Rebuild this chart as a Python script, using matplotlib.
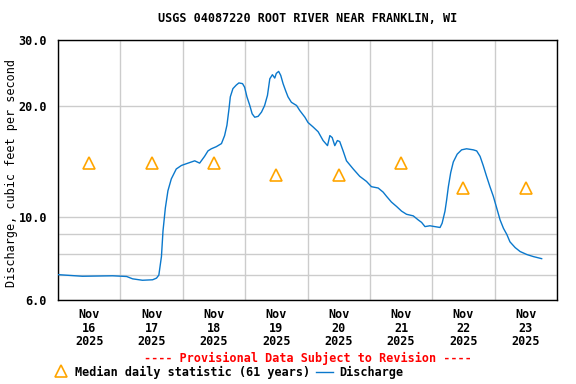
import numpy as np
import pandas as pd
import matplotlib
matplotlib.use("Agg")
import matplotlib.pyplot as plt
import matplotlib.dates as mdates
from matplotlib.lines import Line2D
from matplotlib.ticker import FixedLocator, NullFormatter, FixedFormatter

START = pd.Timestamp("2025-11-16 00:00")

hours = [
    0.0, 9.4, 21.0, 26.4, 28.7, 32.5, 36.4, 37.9, 38.8, 39.8, 40.4, 41.3,
    42.3, 43.6, 45.5, 47.5, 49.4, 52.6, 54.5, 56.4, 57.7, 59.0, 60.9, 62.9,
    64.1, 65.0, 65.8, 66.3, 67.3, 68.6, 69.6, 71.0, 71.8, 72.7, 73.8, 74.7,
    75.7, 77.0, 78.3, 79.5, 80.6, 81.5, 82.5, 83.4, 84.0, 84.9, 85.7, 86.6,
    87.6, 88.5, 89.8, 91.8, 93.0, 95.0, 96.2, 98.2, 100.1, 102.0, 103.7,
    104.6, 105.5, 106.5, 107.5, 108.4, 109.7, 111.0, 113.6, 116.1, 118.7,
    120.6, 123.2, 125.1, 126.4, 128.3, 130.3, 132.2, 134.1, 136.7, 138.6,
    139.9, 141.2, 143.1, 145.0, 147.0, 147.8, 148.9, 149.5, 150.2, 151.1,
    152.1, 153.6, 155.3, 157.2, 159.8, 161.1, 162.4, 163.6, 164.9, 166.2,
    167.5, 168.8, 170.1, 171.4, 172.7, 173.9, 175.9, 177.8, 180.4, 182.9,
    186.1,
]

discharge = [
    7.02, 6.95, 6.97, 6.94, 6.84, 6.78, 6.80, 6.87, 7.00, 7.85, 9.2, 10.6,
    11.8, 12.7, 13.5, 13.8, 13.95, 14.2, 14.0, 14.6, 15.1, 15.3, 15.5, 15.8,
    16.6, 17.7, 19.6, 21.1, 22.2, 22.7, 23.0, 22.9, 22.4, 21.1, 20.0, 19.0,
    18.6, 18.7, 19.2, 20.0, 21.3, 23.6, 24.2, 23.7, 24.4, 24.7, 24.1, 22.9,
    21.9, 21.1, 20.4, 20.0, 19.4, 18.6, 18.0, 17.5, 17.0, 16.1, 15.6,
    16.6, 16.4, 15.6, 16.1, 16.0, 15.1, 14.2, 13.5, 12.9, 12.5,
    12.1, 12.0, 11.7, 11.4, 11.0, 10.7, 10.4, 10.2, 10.1, 9.85,
    9.7, 9.45, 9.5, 9.45, 9.4, 9.65, 10.4, 11.1, 12.1, 13.2,
    14.1, 14.8, 15.2, 15.3, 15.2, 15.1, 14.6, 13.8, 12.9, 12.1,
    11.4, 10.6, 9.85, 9.35, 9.0, 8.6, 8.3, 8.1, 7.95, 7.85,
    7.75,
]

median_days = ["2025-11-16", "2025-11-17", "2025-11-18", "2025-11-19",
               "2025-11-20", "2025-11-21", "2025-11-22", "2025-11-23"]
median_values = [14.0, 14.0, 14.0, 13.0, 13.0, 14.0, 12.0, 12.0]

y_major = [6.0, 10.0, 20.0, 30.0]
y_minor = [7.0, 8.0, 9.0]

# Style

FONT = "DejaVu Sans Mono"
FS = 8.5
LINE_COLOR = "#0a78cc"
MEDIAN_COLOR = "#ffa500"
GRID_COLOR = "#cccccc"

plt.rcParams["font.family"] = FONT
plt.rcParams["font.weight"] = "bold"

times = START + pd.to_timedelta(hours, unit="h")
median_times = pd.to_datetime(median_days) + pd.Timedelta(hours=12)

fig = plt.figure(figsize=(5.76, 3.84), dpi=100)
ax = fig.add_axes([58 / 576, 1 - 300 / 384, 499 / 576, 260 / 384])

ax.plot(times, discharge, color=LINE_COLOR, linewidth=1.0, zorder=3)
ax.plot(median_times, median_values, linestyle="none", marker="^",
        markersize=8, markerfacecolor="none", markeredgecolor=MEDIAN_COLOR,
        markeredgewidth=1.2, zorder=4)

ax.set_yscale("log")
ax.set_ylim(6.0, 30.0)
ax.yaxis.set_major_locator(FixedLocator(y_major))
ax.yaxis.set_major_formatter(FixedFormatter([f"{v:.1f}" for v in y_major]))
ax.yaxis.set_minor_locator(FixedLocator(y_minor))
ax.yaxis.set_minor_formatter(NullFormatter())

ax.set_xlim(START, START + pd.Timedelta(days=8))
ax.xaxis.set_major_locator(mdates.DayLocator())
ax.xaxis.set_major_formatter(NullFormatter())
ax.xaxis.set_minor_locator(mdates.HourLocator(byhour=[12]))
ax.xaxis.set_minor_formatter(mdates.DateFormatter("%b\n%d\n%Y"))

ax.grid(True, which="major", axis="x", color=GRID_COLOR, linewidth=1.0)
ax.grid(True, which="both", axis="y", color=GRID_COLOR, linewidth=1.0)
ax.set_axisbelow(True)

ax.tick_params(axis="both", which="both", length=0)
ax.tick_params(axis="y", which="major", pad=8, labelsize=FS)
ax.tick_params(axis="x", which="minor", pad=6, labelsize=FS)
for lab in ax.get_xticklabels(minor=True):
    lab.set_linespacing(1.02)

for sp in ax.spines.values():
    sp.set_color("black")
    sp.set_linewidth(1.0)

ax.set_ylabel("Discharge, cubic feet per second", fontsize=FS)
ax.yaxis.set_label_coords((18 - 58) / 499, 0.49)

fig.text(0.5 * (58 + 557) / 576, 1 - 19 / 384,
         "USGS 04087220 ROOT RIVER NEAR FRANKLIN, WI",
         ha="center", va="center", fontsize=FS)

fig.text(308 / 576, 1 - 358 / 384,
         "---- Provisional Data Subject to Revision ----",
         ha="center", va="center", fontsize=FS, color="red")

# Legend drawn by hand to match the layout
fig.add_artist(Line2D([61 / 576], [1 - 371 / 384], transform=fig.transFigure,
                      marker="^", markersize=8, markerfacecolor="none",
                      markeredgecolor=MEDIAN_COLOR, markeredgewidth=1.2,
                      linestyle="none"))
fig.text(75 / 576, 1 - 372 / 384, "Median daily statistic (61 years)",
         ha="left", va="center", fontsize=FS)
fig.add_artist(Line2D([316 / 576, 333 / 576], [1 - 372 / 384, 1 - 372 / 384],
                      transform=fig.transFigure, color=LINE_COLOR,
                      linewidth=1.0))
fig.text(339 / 576, 1 - 372 / 384, "Discharge",
         ha="left", va="center", fontsize=FS)

fig.savefig("out.png", dpi=100)
